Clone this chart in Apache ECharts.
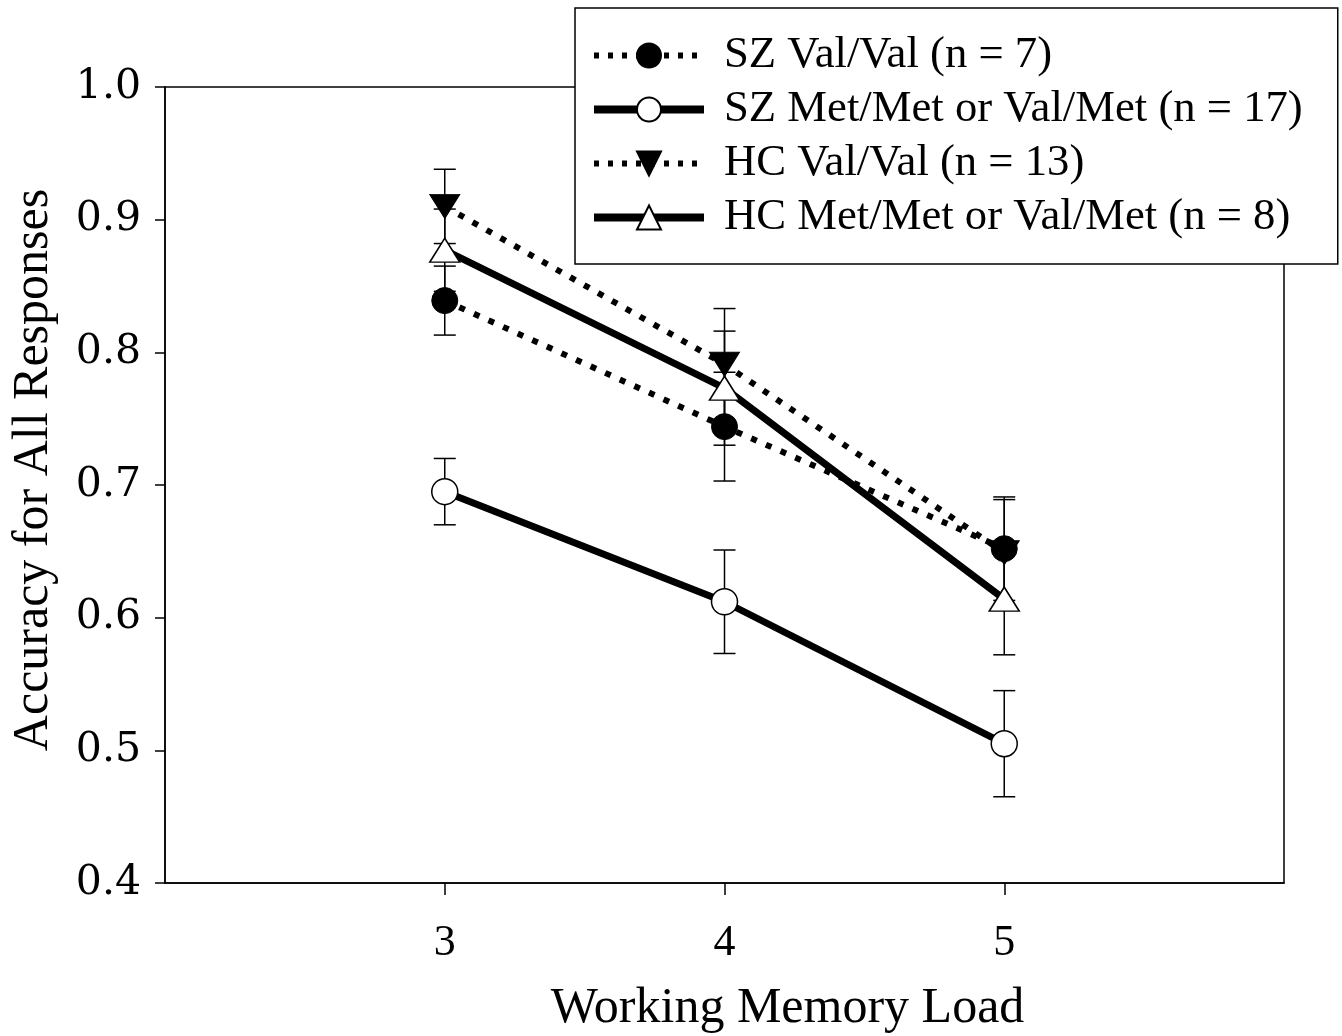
<!DOCTYPE html>
<html>
<head>
<meta charset="utf-8">
<script src="https://cdn.jsdelivr.net/npm/echarts@6/dist/echarts.min.js"></script>
<style>
html,body{margin:0;padding:0;background:#fff;}
#chart{width:1342px;height:1036px;}
</style>
</head>
<body>
<div id="chart"></div>
<script>
// ---- data ----
const loads = [3, 4, 5];
const yTicks = [0.4, 0.5, 0.6, 0.7, 0.8, 0.9, 1.0];
const seriesNames = ['SZ Val/Val (n = 7)', 'SZ Met/Met or Val/Met (n = 17)', 'HC Val/Val (n = 13)', 'HC Met/Met or Val/Met (n = 8)'];
const szValVal = [0.839, 0.744, 0.652];
const szValValErr = [0.026, 0.041, 0.039];
const szMet = [0.695, 0.612, 0.505];
const szMetErr = [0.025, 0.039, 0.040];
const hcValVal = [0.910, 0.791, 0.649];
const hcValValErr = [0.028, 0.042, 0.040];
const hcMet = [0.877, 0.773, 0.614];
const hcMetErr = [0.031, 0.043, 0.042];

const chart = echarts.init(document.getElementById('chart'));

function pts(vals) { return loads.map((x, i) => [x, vals[i]]); }
function errs(vals, e) { return loads.map((x, i) => [x, vals[i] - e[i], vals[i] + e[i]]); }

function renderErr(params, api) {
  const x = api.value(0), lo = api.value(1), hi = api.value(2);
  const a = api.coord([x, lo]), b = api.coord([x, hi]);
  const hw = 11;
  const st = { stroke: '#000', lineWidth: 1.5 };
  return {
    type: 'group',
    children: [
      { type: 'line', shape: { x1: a[0], y1: a[1], x2: b[0], y2: b[1] }, style: st },
      { type: 'line', shape: { x1: a[0] - hw, y1: a[1], x2: a[0] + hw, y2: a[1] }, style: st },
      { type: 'line', shape: { x1: b[0] - hw, y1: b[1], x2: b[0] + hw, y2: b[1] }, style: st }
    ]
  };
}

function errSeries(name, vals, e) {
  return { name: name, type: 'custom', renderItem: renderErr, data: errs(vals, e), z: 1, silent: true, encode: { x: 0, y: [1, 2] } };
}

const dotted = [6, 10];
const solidLegend = { color: '#000', width: 8, type: 'solid' };
const dottedLegend = { color: '#000', width: 6, type: [5, 9] };

const option = {
  animation: false,
  backgroundColor: '#fff',
  grid: { left: 165, right: 58, top: 87, bottom: 153, show: true, borderColor: '#000', borderWidth: 1.5, backgroundColor: 'transparent', containLabel: false, outerBoundsMode: 'none' },
  legend: {
    data: [
      { name: seriesNames[0], lineStyle: dottedLegend },
      { name: seriesNames[1], lineStyle: solidLegend },
      { name: seriesNames[2], lineStyle: dottedLegend },
      { name: seriesNames[3], lineStyle: solidLegend }
    ],
    orient: 'vertical', left: 575, top: 8,
    itemWidth: 110, itemHeight: 30, itemGap: 9,
    backgroundColor: '#fff', borderColor: '#000', borderWidth: 1.5,
    padding: [25, 35, 24, 15],
    selectedMode: false, z: 10,
    textStyle: { fontFamily: 'Liberation Serif', fontSize: 44.7, color: '#000', padding: [0, 0, 0, 15] }
  },
  xAxis: {
    type: 'value', min: 2, max: 6, interval: 1,
    name: 'Working Memory Load', nameLocation: 'middle', nameGap: 101,
    nameTextStyle: { fontFamily: 'Liberation Serif', fontSize: 50, color: '#000', padding: [0, 0, 0, 126] },
    axisLine: { show: true, lineStyle: { color: '#000', width: 1.5 } },
    axisTick: { show: true, length: 12, lineStyle: { color: '#000', width: 1.5 }, customValues: loads },
    axisLabel: { fontFamily: 'Liberation Serif', fontSize: 44, color: '#000', margin: 38, customValues: loads, formatter: v => String(v) },
    splitLine: { show: false }
  },
  yAxis: {
    type: 'value', min: 0.4, max: 1.0, interval: 0.1,
    name: 'Accuracy for All Responses', nameLocation: 'middle', nameGap: 106, nameRotate: 90,
    nameTextStyle: { fontFamily: 'Liberation Serif', fontSize: 50, color: '#000', padding: [0, 0, 0, 30] },
    axisLine: { show: true, lineStyle: { color: '#000', width: 1.5 } },
    axisTick: { show: true, length: 10, lineStyle: { color: '#000', width: 1.5 } },
    axisLabel: { fontFamily: 'DejaVu Serif', fontSize: 41, color: '#000', margin: 24, formatter: v => v.toFixed(1) },
    splitLine: { show: false }
  },
  series: [
    errSeries('e1', szValVal, szValValErr),
    errSeries('e2', szMet, szMetErr),
    errSeries('e3', hcValVal, hcValValErr),
    errSeries('e4', hcMet, hcMetErr),
    {
      name: seriesNames[0], type: 'line', data: pts(szValVal), z: 5,
      symbol: 'circle', symbolSize: 26,
      itemStyle: { color: '#000', borderColor: '#000', borderWidth: 1 },
      lineStyle: { color: '#000', width: 6, type: dotted }
    },
    {
      name: seriesNames[1], type: 'line', data: pts(szMet), z: 6,
      symbol: 'circle', symbolSize: 26,
      itemStyle: { color: '#fff', borderColor: '#000', borderWidth: 1.5 },
      lineStyle: { color: '#000', width: 7, type: 'solid' }
    },
    {
      name: seriesNames[2], type: 'line', data: pts(hcValVal), z: 3,
      symbol: 'triangle', symbolRotate: 180, symbolSize: [30, 24],
      itemStyle: { color: '#000', borderColor: '#000', borderWidth: 1 },
      lineStyle: { color: '#000', width: 6, type: dotted }
    },
    {
      name: seriesNames[3], type: 'line', data: pts(hcMet), z: 4,
      symbol: 'triangle', symbolSize: [30, 24],
      itemStyle: { color: '#fff', borderColor: '#000', borderWidth: 1.5 },
      lineStyle: { color: '#000', width: 7, type: 'solid' }
    }
  ]
};
chart.setOption(option);
</script>
</body>
</html>
